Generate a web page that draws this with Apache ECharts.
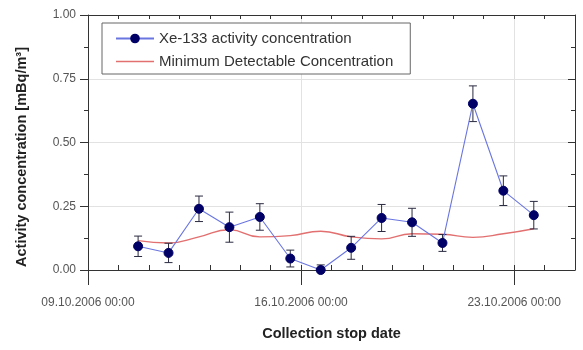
<!DOCTYPE html>
<html>
<head>
<meta charset="utf-8">
<script src="https://cdn.jsdelivr.net/npm/echarts@6/dist/echarts.min.js"></script>
<style>
html,body{margin:0;padding:0;background:#fff;}
#chart{width:583px;height:350px;}
</style>
</head>
<body>
<div id="chart"></div>
<script>
// ---- data ----
const collectionDates = [
  '10.10.2006 15:30','11.10.2006 15:30','12.10.2006 15:30','13.10.2006 15:30',
  '14.10.2006 15:30','15.10.2006 15:30','16.10.2006 15:30','17.10.2006 15:30',
  '18.10.2006 15:30','19.10.2006 15:30','20.10.2006 15:30','21.10.2006 15:30',
  '22.10.2006 15:30','23.10.2006 15:30'
];
const xeActivity = [0.093, 0.067, 0.240, 0.168, 0.208, 0.045, 0.000, 0.087, 0.204, 0.187, 0.106, 0.652, 0.311, 0.215];
const xeError    = [0.040, 0.038, 0.050, 0.059, 0.052, 0.033, 0.020, 0.045, 0.053, 0.055, 0.033, 0.070, 0.058, 0.054];
const mdcValues  = [0.115, 0.106, 0.130, 0.158, 0.130, 0.135, 0.152, 0.130, 0.122, 0.142, 0.140, 0.128, 0.142, 0.162];
const xTickLabels = ['09.10.2006 00:00', '16.10.2006 00:00', '23.10.2006 00:00'];
const xAxisStart = '09.10.2006 00:00';
const xAxisEnd   = '25.10.2006 00:00';
const yTickLabels = ['0.00', '0.25', '0.50', '0.75', '1.00'];
const seriesNames = ['Xe-133 activity concentration', 'Minimum Detectable Concentration'];
const xTitle = 'Collection stop date';
const yTitle = 'Activity concentration [mBq/m\u00B3]';

// ---- helpers ----
function parseDate(s) {
  const m = s.match(/(\d+)\.(\d+)\.(\d+) (\d+):(\d+)/);
  return Date.UTC(+m[3], +m[2] - 1, +m[1], +m[4], +m[5]);
}
const t0 = parseDate(xAxisStart);
function toDays(s) { return (parseDate(s) - t0) / 864e5; }
const xMax = toDays(xAxisEnd);
const majorDays = xTickLabels.map(toDays);
function labelFor(v) {
  const i = majorDays.findIndex(d => Math.abs(d - v) < 1e-6);
  return i >= 0 ? xTickLabels[i] : '';
}
const xs = collectionDates.map(toDays);
const xeData = xs.map((x, i) => [x, xeActivity[i]]);
const mdcData = xs.map((x, i) => [x, mdcValues[i]]);
const errData = xs.map((x, i) => [x, xeActivity[i], xeError[i]]);

const axisColor = '#333';
const fontFam = '"Liberation Sans", Arial, sans-serif';
const mdcColor = '#e27070';

const chart = echarts.init(document.getElementById('chart'), null, {renderer: 'canvas'});
chart.setOption({
  animation: false,
  backgroundColor: '#fff',
  textStyle: {fontFamily: fontFam},
  grid: {left: 88, right: 8, top: 15, bottom: 80, containLabel: false},
  legend: {
    data: [
      {name: seriesNames[0]},
      {name: seriesNames[1], icon: 'path://M0,0 L40,0 L40,1.6 L0,1.6 Z', itemStyle: {color: mdcColor}}
    ],
    orient: 'vertical',
    left: 102, top: 23,
    borderColor: '#666', borderWidth: 1, backgroundColor: '#fff',
    padding: [8, 17, 5, 13],
    itemWidth: 38, itemHeight: 12, itemGap: 8,
    textStyle: {fontSize: 15, color: '#333', fontFamily: fontFam}
  },
  graphic: [{
    type: 'text', x: 22, y: 157, rotation: Math.PI / 2,
    style: {text: yTitle, x: 0, y: 0, align: 'center', verticalAlign: 'middle',
            font: 'bold 14.5px ' + fontFam, fill: '#222'}
  }],
  xAxis: [
    {
      type: 'value', min: 0, max: xMax, interval: 1, position: 'bottom',
      axisLine: {show: true, onZero: false, lineStyle: {color: axisColor, width: 1}},
      axisTick: {show: true, inside: true, length: 5, lineStyle: {color: axisColor}},
      axisLabel: {show: true, customValues: majorDays, formatter: labelFor, margin: 27,
                  fontSize: 12, color: '#555', fontFamily: fontFam},
      splitLine: {show: false},
      name: xTitle, nameLocation: 'middle', nameGap: 56,
      nameTextStyle: {fontSize: 14.5, fontWeight: 'bold', color: '#222', fontFamily: fontFam}
    },
    {
      type: 'value', min: 0, max: xMax, interval: 7, position: 'bottom',
      axisLine: {show: false},
      axisTick: {show: true, customValues: majorDays, inside: false, length: 15, lineStyle: {color: axisColor}},
      axisLabel: {show: false},
      splitLine: {show: true, lineStyle: {color: '#e2e2e2', width: 1}}
    },
    {
      type: 'value', min: 0, max: xMax, interval: 1, position: 'top',
      axisLine: {show: true, onZero: false, lineStyle: {color: axisColor, width: 1}},
      axisTick: {show: true, inside: true, length: 4, lineStyle: {color: axisColor}},
      axisLabel: {show: false},
      splitLine: {show: false}
    },
    {
      type: 'value', min: 0, max: xMax, interval: 7, position: 'top',
      axisLine: {show: false},
      axisTick: {show: true, customValues: majorDays, inside: true, length: 8, lineStyle: {color: axisColor}},
      axisLabel: {show: false},
      splitLine: {show: false}
    }
  ],
  yAxis: [
    {
      type: 'value', min: 0, max: 1, interval: 0.25, position: 'left',
      axisLine: {show: true, onZero: false, lineStyle: {color: axisColor, width: 1}},
      axisTick: {show: true, inside: false, length: 8, lineStyle: {color: axisColor}},
      minorTick: {show: true, splitNumber: 2, length: 4, lineStyle: {color: axisColor}},
      axisLabel: {formatter: v => yTickLabels[Math.round(v / 0.25)] || '', margin: 12,
                  fontSize: 12, color: '#555', fontFamily: fontFam},
      splitLine: {show: true, lineStyle: {color: '#e2e2e2', width: 1}}
    },
    {
      type: 'value', min: 0, max: 1, interval: 0.25, position: 'right',
      axisLine: {show: true, onZero: false, lineStyle: {color: axisColor, width: 1}},
      axisTick: {show: true, inside: true, length: 7, lineStyle: {color: axisColor}},
      minorTick: {show: true, splitNumber: 2, length: 4, lineStyle: {color: axisColor}},
      axisLabel: {show: false},
      splitLine: {show: false}
    }
  ],
  series: [
    {
      name: seriesNames[1],
      type: 'line', xAxisIndex: 0, yAxisIndex: 0,
      data: mdcData, smooth: 0.5, symbol: 'none',
      lineStyle: {color: mdcColor, width: 1.4},
      itemStyle: {color: mdcColor},
      z: 2
    },
    {
      name: 'error',
      type: 'custom', xAxisIndex: 0, yAxisIndex: 0,
      data: errData,
      renderItem: function (params, api) {
        const x = api.value(0), v = api.value(1), e = api.value(2);
        const top = api.coord([x, v + e]);
        const bot = api.coord([x, Math.max(0, v - e)]);
        const hw = 4;
        const style = {stroke: '#2a2a40', lineWidth: 1};
        const children = [
          {type: 'line', shape: {x1: top[0], y1: top[1], x2: bot[0], y2: bot[1]}, style: style},
          {type: 'line', shape: {x1: top[0] - hw, y1: top[1], x2: top[0] + hw, y2: top[1]}, style: style}
        ];
        if (v - e > 0) {
          children.push({type: 'line', shape: {x1: bot[0] - hw, y1: bot[1], x2: bot[0] + hw, y2: bot[1]}, style: style});
        }
        return {type: 'group', children: children};
      },
      z: 3
    },
    {
      name: seriesNames[0],
      type: 'line', xAxisIndex: 0, yAxisIndex: 0,
      data: xeData, symbol: 'circle', symbolSize: 9,
      lineStyle: {color: '#6a76e0', width: 1.1},
      itemStyle: {color: '#000066', borderColor: '#000066'},
      z: 4
    }
  ]
});
</script>
</body>
</html>
